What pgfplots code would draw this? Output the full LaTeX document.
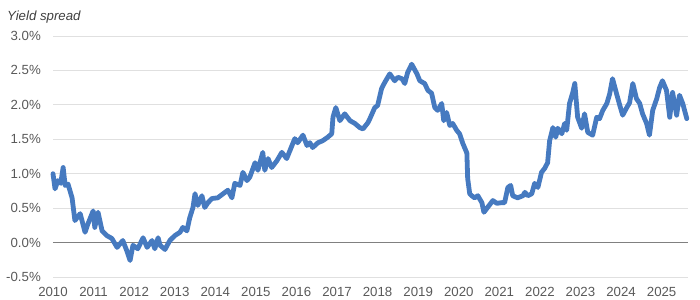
\documentclass[border=0pt]{standalone}
\usepackage{fontspec}
\setmainfont{Liberation Sans}
\usepackage{pgfplots}
\pgfplotsset{compat=1.18}
\definecolor{lineblue}{RGB}{70,122,192}
\definecolor{gridgray}{RGB}{224,224,224}
\definecolor{zerogray}{RGB}{128,128,128}
\definecolor{labelgray}{RGB}{89,89,89}
\definecolor{titlegray}{RGB}{64,64,64}
\begin{document}
\begin{tikzpicture}
\begin{axis}[
  scale only axis, width=635bp, height=241bp,
  xmin=2010, xmax=2025.65, ymin=-0.5, ymax=3.0,
  clip=false,
  axis line style={draw=none}, tick style={draw=none},
  major tick length=0pt,
  xtick={2010,2011,2012,2013,2014,2015,2016,2017,2018,2019,2020,2021,2022,2023,2024,2025},
  xticklabels={2010,2011,2012,2013,2014,2015,2016,2017,2018,2019,2020,2021,2022,2023,2024,2025},
  ytick={-0.5,0,0.5,1,1.5,2,2.5,3},
  yticklabels={-0.5\%,0.0\%,0.5\%,1.0\%,1.5\%,2.0\%,2.5\%,3.0\%},
  ymajorgrids, grid style={color=gridgray, line width=0.9bp},
  tick label style={font=\fontsize{13.3}{15}\selectfont, text=labelgray},
  yticklabel style={anchor=east, inner sep=0pt, xshift=-12bp},
  xticklabel style={anchor=north, inner sep=0pt, yshift=-10.5bp},
]
\addplot[color=zerogray, line width=1.6bp, forget plot] coordinates {(2010,0) (2025.65,0)};
\addplot[color=lineblue, line width=4.8bp, line join=round, line cap=round] coordinates {
(2010.00,1.00) (2010.05,0.78) (2010.12,0.90) (2010.19,0.86) (2010.25,1.09) (2010.30,0.83)
(2010.37,0.85) (2010.47,0.65) (2010.54,0.32) (2010.67,0.42) (2010.79,0.15) (2010.86,0.27)
(2010.99,0.46) (2011.03,0.22) (2011.11,0.44) (2011.21,0.17) (2011.33,0.10) (2011.45,0.06)
(2011.58,-0.07) (2011.72,0.03) (2011.82,-0.12) (2011.90,-0.26) (2011.97,-0.04) (2012.09,-0.09)
(2012.22,0.07) (2012.32,-0.07) (2012.44,0.03) (2012.51,-0.09) (2012.59,0.07) (2012.64,-0.04)
(2012.76,-0.10) (2012.88,0.03) (2013.00,0.10) (2013.13,0.15) (2013.20,0.22) (2013.30,0.17)
(2013.37,0.36) (2013.45,0.51) (2013.50,0.71) (2013.57,0.54) (2013.67,0.68) (2013.74,0.51)
(2013.82,0.58) (2013.92,0.64) (2014.06,0.65) (2014.24,0.73) (2014.31,0.76) (2014.41,0.65)
(2014.48,0.86) (2014.61,0.83) (2014.68,1.02) (2014.78,0.90) (2014.85,0.95) (2014.98,1.16)
(2015.05,1.05) (2015.17,1.31) (2015.22,1.05) (2015.30,1.22) (2015.39,1.09) (2015.52,1.19)
(2015.64,1.31) (2015.76,1.22) (2015.89,1.41) (2015.96,1.51) (2016.03,1.45) (2016.16,1.56)
(2016.26,1.41) (2016.33,1.45) (2016.40,1.38) (2016.53,1.45) (2016.65,1.48) (2016.77,1.53)
(2016.87,1.58) (2016.90,1.82) (2016.97,1.96) (2017.07,1.77) (2017.19,1.87) (2017.32,1.77)
(2017.44,1.73) (2017.56,1.67) (2017.64,1.65) (2017.76,1.74) (2017.81,1.80) (2017.93,1.96)
(2018.00,1.99) (2018.10,2.24) (2018.18,2.33) (2018.30,2.45) (2018.42,2.35) (2018.50,2.40)
(2018.60,2.38) (2018.67,2.31) (2018.74,2.47) (2018.84,2.59) (2018.97,2.45) (2019.04,2.35)
(2019.16,2.31) (2019.24,2.21) (2019.33,2.17) (2019.41,1.96) (2019.48,1.92) (2019.58,2.02)
(2019.63,1.77) (2019.70,1.89) (2019.78,1.70) (2019.85,1.73) (2019.95,1.63) (2020.02,1.58)
(2020.10,1.44) (2020.15,1.37) (2020.20,1.30) (2020.22,0.93) (2020.27,0.71) (2020.32,0.68)
(2020.39,0.65) (2020.47,0.68) (2020.57,0.58) (2020.62,0.44) (2020.71,0.51) (2020.84,0.61)
(2020.94,0.57) (2021.06,0.58) (2021.13,0.58) (2021.21,0.80) (2021.28,0.83) (2021.33,0.68)
(2021.45,0.65) (2021.58,0.68) (2021.63,0.73) (2021.70,0.68) (2021.80,0.71) (2021.87,0.86)
(2021.95,0.80) (2022.04,1.02) (2022.12,1.08) (2022.19,1.16) (2022.24,1.48) (2022.32,1.67)
(2022.39,1.53) (2022.44,1.66) (2022.54,1.58) (2022.61,1.73) (2022.66,1.63) (2022.73,2.02)
(2022.81,2.18) (2022.86,2.31) (2022.93,1.82) (2023.03,1.66) (2023.10,1.87) (2023.18,1.60)
(2023.30,1.56) (2023.40,1.82) (2023.47,1.80) (2023.55,1.92) (2023.65,2.02) (2023.72,2.16)
(2023.79,2.38) (2023.89,2.16) (2023.97,1.99) (2024.04,1.85) (2024.14,1.96) (2024.21,2.03)
(2024.29,2.31) (2024.38,2.09) (2024.46,2.02) (2024.53,1.87) (2024.63,1.73) (2024.70,1.56)
(2024.78,1.92) (2024.88,2.09) (2024.95,2.25) (2025.02,2.35) (2025.12,2.21) (2025.20,1.82)
(2025.27,2.18) (2025.37,1.85) (2025.44,2.14) (2025.52,2.02) (2025.62,1.80)
};
\end{axis}
\node[anchor=base west, inner sep=0pt, text=titlegray, font=\fontsize{13.3}{15}\selectfont\itshape]
  at ([xshift=-46bp,yshift=15bp]current axis.north west) {Yield spread};
\pgfresetboundingbox
\useasboundingbox ([xshift=-53bp,yshift=-23bp]current axis.south west) rectangle ([xshift=12bp,yshift=36bp]current axis.north east);
\end{tikzpicture}
\end{document}
